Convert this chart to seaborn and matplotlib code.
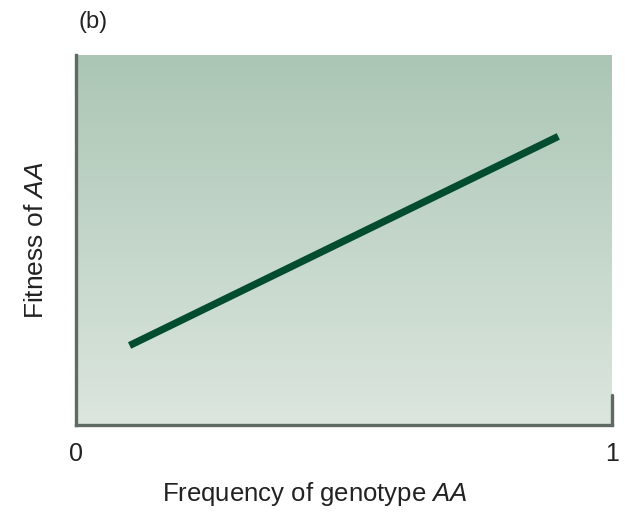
import numpy as np
import pandas as pd
import matplotlib
matplotlib.use("Agg")
import matplotlib.pyplot as plt
import seaborn as sns
from matplotlib.colors import LinearSegmentedColormap

# Data
freq_AA = [0.10, 0.90]
fitness_AA = [0.215, 0.78]
x_ticks = [0, 1]
x_tick_labels = ["0", "1"]
panel_label = "(b)"
x_label = r"Frequency of genotype $\mathit{AA}$"
y_label = r"Fitness of $\mathit{AA}$"

sns.set_theme(style="white")
font = "Liberation Sans"
plt.rcParams['font.family'] = [font, 'DejaVu Sans']
plt.rcParams['mathtext.fontset'] = 'custom'
plt.rcParams['mathtext.rm'] = font
plt.rcParams['mathtext.it'] = font + ':italic'

df = pd.DataFrame({"freq": freq_AA, "fitness": fitness_AA})

fig = plt.figure(figsize=(6.25, 5.19), dpi=100)
ax = fig.add_axes([0.1216, 0.181, 0.979 - 0.1216, 0.894 - 0.181])

# Gradient background
cmap = LinearSegmentedColormap.from_list("bg", ["#dce6de", "#abc6b5"])
grad = np.linspace(0, 1, 256).reshape(-1, 1)
ax.imshow(grad, cmap=cmap, aspect="auto", origin="lower",
          extent=[0, 1, 0, 1], transform=ax.transAxes, zorder=0)

sns.lineplot(data=df, x="freq", y="fitness", ax=ax, color="#024d2f",
             linewidth=5.2, solid_capstyle="butt", zorder=3)

ax.set_xlim(0, 1)
ax.set_ylim(0, 1)
ax.set_xticks(x_ticks)
ax.set_xticklabels(x_tick_labels, fontsize=18, color="#222222")
ax.set_yticks([])
ax.tick_params(axis="x", length=0, pad=12)

ax.set_xlabel(x_label, fontsize=18.5, color="#222222", labelpad=10, x=0.445)
ax.set_ylabel(y_label, fontsize=19, color="#222222", labelpad=20)

ax.spines["top"].set_visible(False)
ax.spines["right"].set_visible(False)
for s in ["left", "bottom"]:
    ax.spines[s].set_color("#5e6a62")
    ax.spines[s].set_linewidth(2.4)

# short right-end marker
ax.plot([1, 1], [0, 0.08], color="#5e6a62", linewidth=2.4,
        transform=ax.transAxes, clip_on=False, zorder=4)

fig.text(0.126, 0.957, panel_label, fontsize=17, color="#222222",
         ha="left", va="center")

fig.savefig("out.png", dpi=100, facecolor="white")
